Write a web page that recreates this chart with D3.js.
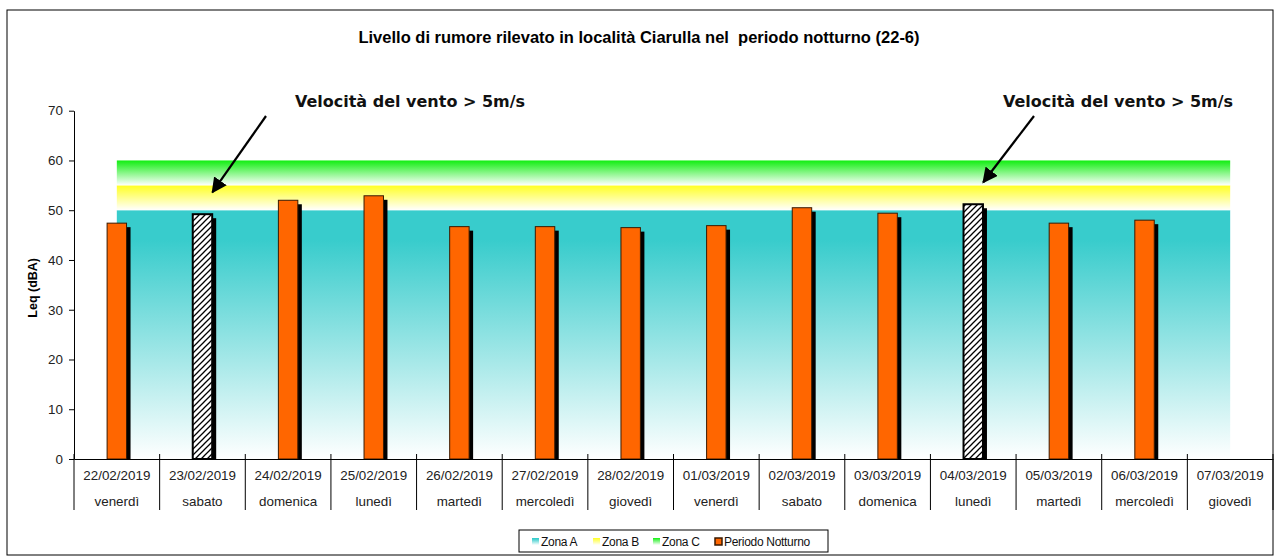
<!DOCTYPE html>
<html>
<head>
<meta charset="utf-8">
<script src="https://cdn.jsdelivr.net/npm/d3@7"></script>
<style>
  body { margin: 0; background: #fff; }
  svg { font-family: "Liberation Sans", Arial, sans-serif; }
</style>
</head>
<body>
<svg id="chart"></svg>
<script>
const dates = ["22/02/2019", "23/02/2019", "24/02/2019", "25/02/2019", "26/02/2019", "27/02/2019", "28/02/2019",
               "01/03/2019", "02/03/2019", "03/03/2019", "04/03/2019", "05/03/2019", "06/03/2019", "07/03/2019"]
const days = ["venerdì", "sabato", "domenica", "lunedì", "martedì", "mercoledì", "giovedì",
              "venerdì", "sabato", "domenica", "lunedì", "martedì", "mercoledì", "giovedì"]
const leq = [47.4, 49.2, 52.0, 52.9, 46.7, 46.7, 46.5, 46.9, 50.5, 49.4, 51.2, 47.4, 48.0, null]
const windy = [false, true, false, false, false, false, false, false, false, false, true, false, false, false]
const zoneNames = ["Zona A", "Zona B", "Zona C"]
const zoneValues = [50, 5, 5]
const yTicks = [0, 10, 20, 30, 40, 50, 60, 70]
const title = "Livello di rumore rilevato in località Ciarulla nel  periodo notturno (22-6)"
const windNote = "Velocità del vento > 5m/s"

function initializeElements() {
  const svgWidth = 1276
  const svgHeight = 557
  const plot = {left: 74, right: 1273, top: 110.7, bottom: 459}

  const svg = d3.select("#chart").attr("width", svgWidth).attr("height", svgHeight)

  const defs = svg.append("defs")
  const grads = [
    {id: "gA", top: "#38cccc", bottom: "#ffffff"},
    {id: "gB", top: "#ffff22", bottom: "#ffffff"},
    {id: "gC", top: "#11ee11", bottom: "#ffffff"}
  ]
  grads.forEach(g => {
    const lg = defs.append("linearGradient").attr("id", g.id).attr("x1", 0).attr("y1", 0).attr("x2", 0).attr("y2", 1)
    lg.append("stop").attr("offset", "0%").attr("stop-color", g.top)
    if (g.id === "gA") lg.append("stop").attr("offset", "12%").attr("stop-color", g.top)
    lg.append("stop").attr("offset", "100%").attr("stop-color", g.bottom)
  })
  const hatch = defs.append("pattern").attr("id", "hatch").attr("patternUnits", "userSpaceOnUse")
    .attr("width", 6).attr("height", 6)
  hatch.append("rect").attr("width", 6).attr("height", 6).attr("fill", "#fff")
  hatch.append("path").attr("d", "M-1,7 L7,-1 M-1,1 L1,-1 M5,7 L7,5").attr("stroke", "#000").attr("stroke-width", 1.3)
  defs.append("marker").attr("id", "arrow").attr("viewBox", "0 0 10 10").attr("refX", 9).attr("refY", 5)
    .attr("markerWidth", 7).attr("markerHeight", 7).attr("markerUnits", "strokeWidth").attr("orient", "auto")
    .append("path").attr("d", "M0,0 L10,5 L0,10 Z").attr("fill", "#000")

  // outer frame
  svg.append("rect").attr("x", 7).attr("y", 10).attr("width", 1266).attr("height", 545)
    .attr("fill", "none").attr("stroke", "#000").attr("stroke-width", 1)

  const x = d3.scaleBand().domain(dates).range([plot.left, plot.right]).padding(0)
  const y = d3.scaleLinear().domain([0, 70]).range([plot.bottom, plot.top])
  const cx = d => x(d) + x.bandwidth() / 2

  // stacked zones, from first to last category centre
  let base = 0
  zoneValues.forEach((v, i) => {
    svg.append("rect")
      .attr("x", cx(dates[0]))
      .attr("y", y(base + v))
      .attr("width", cx(dates[dates.length - 1]) - cx(dates[0]))
      .attr("height", y(base) - y(base + v))
      .attr("fill", `url(#${grads[i].id})`)
    base += v
  })

  // bars
  const barW = x.bandwidth() * 0.227
  const data = dates.map((d, i) => ({date: d, value: leq[i], windy: windy[i]})).filter(d => d.value != null)
  const barGroup = svg.append("g")
  barGroup.selectAll("rect.shadow").data(data).join("rect").attr("class", "shadow")
    .attr("x", d => cx(d.date) - barW / 2 + 4)
    .attr("y", d => y(d.value) + 4)
    .attr("width", barW)
    .attr("height", d => y(0) - y(d.value) - 4)
    .attr("fill", "#000")
  barGroup.selectAll("rect.bar").data(data).join("rect").attr("class", "bar")
    .attr("x", d => cx(d.date) - barW / 2)
    .attr("y", d => y(d.value))
    .attr("width", barW)
    .attr("height", d => y(0) - y(d.value))
    .attr("fill", d => d.windy ? "url(#hatch)" : "#ff6600")
    .attr("stroke", d => d.windy ? "#000" : "#3a1a00")
    .attr("stroke-width", d => d.windy ? 2 : 1)

  // y axis
  const yAxis = svg.append("g").attr("transform", `translate(${plot.left},0)`)
    .call(d3.axisLeft(y).tickValues(yTicks).tickSize(5).tickSizeOuter(0).tickPadding(6))
  yAxis.selectAll("text").attr("font-size", 13.4).attr("fill", "#222").attr("font-family", "Liberation Sans, Arial, sans-serif")
  yAxis.selectAll("line, path").attr("stroke", "#000")

  svg.append("text").attr("transform", `translate(37,${(plot.top + plot.bottom) / 2 + 3}) rotate(-90)`)
    .attr("text-anchor", "middle").attr("font-size", 12.5).attr("font-weight", "bold").text("Leq (dBA)")

  // x axis: line, category separators, two label rows
  const xAxis = svg.append("g").attr("transform", `translate(0,${plot.bottom})`)
    .call(d3.axisBottom(x).tickSize(0).tickSizeOuter(0).tickPadding(11))
  xAxis.select("path").attr("stroke", "#000")
  xAxis.selectAll("text").attr("font-size", 13.4).attr("fill", "#222").attr("font-family", "Liberation Sans, Arial, sans-serif")
  svg.append("g").selectAll("text").data(dates).join("text")
    .attr("x", d => cx(d)).attr("y", plot.bottom + 47)
    .attr("text-anchor", "middle").attr("font-size", 13.4).attr("fill", "#222")
    .text((d, i) => days[i])
  const edges = dates.map(d => x(d)).concat([plot.right])
  svg.append("g").selectAll("line").data(edges).join("line")
    .attr("x1", d => d).attr("x2", d => d)
    .attr("y1", plot.bottom - 5).attr("y2", plot.bottom + 51)
    .attr("stroke", "#000")

  // title
  svg.append("text").attr("x", 639).attr("y", 43).attr("text-anchor", "middle")
    .attr("font-size", 16.5).attr("font-weight", "bold").attr("xml:space", "preserve")
    .style("white-space", "pre").text(title)

  // wind annotations
  const notes = dates.filter((d, i) => windy[i])
  const noteLayout = [{tx: 410, x1: 266, y1: 116}, {tx: 1118, x1: 1034, y1: 116}]
  notes.forEach((d, i) => {
    const L = noteLayout[i]
    svg.append("text").attr("x", L.tx).attr("y", 107).attr("text-anchor", "middle")
      .attr("font-family", "DejaVu Sans, Verdana, sans-serif").attr("font-weight", "bold")
      .attr("font-size", 16).attr("fill", "#111").text(windNote)
    svg.append("line").attr("x1", L.x1).attr("y1", L.y1)
      .attr("x2", cx(d) + 10).attr("y2", y(leq[dates.indexOf(d)]) - 22)
      .attr("stroke", "#000").attr("stroke-width", 2.2).attr("marker-end", "url(#arrow)")
  })

  // legend
  const lg = svg.append("g")
  lg.append("rect").attr("x", 519).attr("y", 530).attr("width", 309).attr("height", 22)
    .attr("fill", "#fff").attr("stroke", "#000")
  const items = [
    {label: zoneNames[0], x: 532, fill: "url(#gA)"},
    {label: zoneNames[1], x: 593, fill: "url(#gB)"},
    {label: zoneNames[2], x: 653, fill: "url(#gC)"},
    {label: "Periodo Notturno", x: 715, fill: "#ff6600", stroke: "#3a1a00"}
  ]
  items.forEach(it => {
    lg.append("rect").attr("x", it.x).attr("y", 538).attr("width", 7).attr("height", 7)
      .attr("fill", it.fill).attr("stroke", it.stroke || "none").attr("stroke-width", 1.5)
    lg.append("text").attr("x", it.x + 9).attr("y", 546).attr("font-size", 12).attr("letter-spacing", -0.3)
      .attr("fill", "#111").text(it.label)
  })
}

initializeElements()
</script>
</body>
</html>
